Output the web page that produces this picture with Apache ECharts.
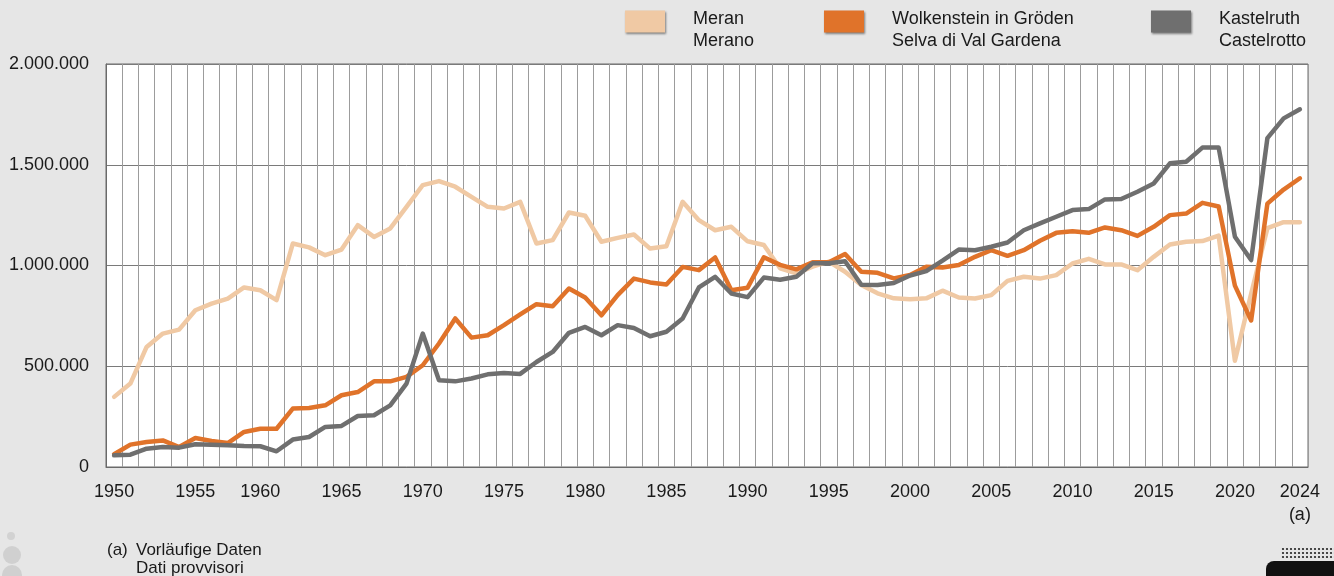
<!DOCTYPE html>
<html>
<head>
<meta charset="utf-8">
<script src="https://cdn.jsdelivr.net/npm/echarts@6/dist/echarts.min.js"></script>
<style>
html,body{margin:0;padding:0;background:#e6e6e6;}
#chart{width:1334px;height:576px;}
</style>
</head>
<body>
<div id="chart"></div>
<script>
// Categories (one year between 1955 and 1960 is not shown in the source chart)
const years = ['1950','1951','1952','1953','1954','1955','1956','1957','1958','1960',
  '1961','1962','1963','1964','1965','1966','1967','1968','1969','1970',
  '1971','1972','1973','1974','1975','1976','1977','1978','1979','1980',
  '1981','1982','1983','1984','1985','1986','1987','1988','1989','1990',
  '1991','1992','1993','1994','1995','1996','1997','1998','1999','2000',
  '2001','2002','2003','2004','2005','2006','2007','2008','2009','2010',
  '2011','2012','2013','2014','2015','2016','2017','2018','2019','2020',
  '2021','2022','2023','2024'];

// Values in thousands
const meran = [348,414,596,662,682,778,811,836,891,877,
  828,1109,1090,1051,1079,1200,1142,1184,1291,1399,
  1419,1391,1341,1291,1283,1316,1109,1126,1263,1247,
  1118,1137,1154,1084,1096,1316,1225,1175,1192,1120,
  1102,986,961,994,1019,969,903,862,837,832,
  837,875,841,836,853,924,944,935,952,1010,
  1033,1005,1005,977,1043,1104,1118,1121,1148,527,
  860,1185,1215,1215];

const wolkenstein = [63,111,124,132,99,144,129,119,174,190,
  190,290,293,306,356,372,425,425,447,505,
  613,737,642,654,704,757,808,798,886,841,
  753,853,935,916,906,993,977,1040,877,890,
  1041,1003,981,1016,1016,1057,969,964,936,953,
  994,990,1002,1043,1076,1048,1076,1123,1162,1170,
  1162,1189,1175,1147,1192,1250,1258,1311,1293,900,
  727,1307,1377,1433];

const kastelruth = [58,61,91,99,96,113,111,108,104,103,
  78,136,149,199,204,253,257,306,414,662,
  430,425,439,460,467,462,521,571,666,695,
  654,704,690,649,671,737,891,944,861,843,
  940,929,944,1011,1011,1021,904,903,913,950,
  972,1024,1079,1076,1093,1114,1175,1209,1242,1275,
  1280,1328,1330,1366,1407,1507,1515,1585,1585,1143,
  1027,1632,1730,1775];

const seriesNames = ['Meran\nMerano', 'Wolkenstein in Gröden\nSelva di Val Gardena', 'Kastelruth\nCastelrotto'];
const seriesColors = ['#f0c9a4', '#e0732a', '#6f6f6f'];
const yTicks = [0, 500000, 1000000, 1500000, 2000000];
const footMark = '(a)';
const footText = 'Vorläufige Daten\nDati provvisori';

const FONT = 'Liberation Sans, Arial, sans-serif';
const toAbs = arr => arr.map(v => v * 1000);
const fmt = v => String(v).replace(/\B(?=(\d{3})+(?!\d))/g, '.');

const chart = echarts.init(document.getElementById('chart'), null, {renderer: 'canvas'});

function legendFor(i, left) {
  return {
    left: left, top: -9, padding: 0, orient: 'horizontal',
    itemWidth: 40, itemHeight: 22, icon: 'rect',
    selectedMode: false,
    data: [{name: seriesNames[i], itemStyle: {color: seriesColors[i], shadowColor: 'rgba(0,0,0,0.45)', shadowBlur: 2, shadowOffsetX: 1, shadowOffsetY: 1}}],
    formatter: n => '{s| }\n' + n,
    textStyle: {fontFamily: FONT, fontSize: 18, color: '#1a1a1a', lineHeight: 22, padding: [0, 0, 0, 23],
      rich: {s: {fontSize: 8, lineHeight: 17}}}
  };
}

// decorative dotted logo (bottom right)
const logoDots = [];
for (let r = 0; r < 3; r++) {
  for (let c = 0; c < 14; c++) {
    logoDots.push({type: 'circle', silent: true, shape: {cx: 1283 + c * 4, cy: 549 + r * 4, r: 1.1}, style: {fill: '#222'}});
  }
}

const data = [meran, wolkenstein, kastelruth];

chart.setOption({
  backgroundColor: '#e6e6e6',
  animation: false,
  legend: [legendFor(0, 625), legendFor(1, 824), legendFor(2, 1151)],
  grid: {left: 106, right: 26, top: 64, bottom: 109, show: true, backgroundColor: '#ffffff', borderColor: '#6a6a6a', borderWidth: 1},
  xAxis: {
    type: 'category', data: years, boundaryGap: true,
    axisLine: {show: true, lineStyle: {color: '#6a6a6a', width: 1}},
    axisTick: {show: false},
    splitLine: {show: true, interval: 0, lineStyle: {color: '#9c9c9c', width: 1}},
    axisLabel: {
      interval: (idx, val) => Number(val) % 5 === 0 || val === '2024',
      formatter: v => v === '2024' ? '2024\n(a)' : v,
      fontFamily: FONT, fontSize: 18, color: '#1a1a1a', lineHeight: 23, margin: 14
    }
  },
  yAxis: {
    type: 'value', min: yTicks[0], max: yTicks[yTicks.length - 1], interval: 500000,
    axisLine: {show: true, lineStyle: {color: '#6a6a6a', width: 1}},
    axisTick: {show: false},
    splitLine: {show: true, lineStyle: {color: '#7a7a7a', width: 1}},
    axisLabel: {formatter: v => fmt(v), fontFamily: FONT, fontSize: 18, color: '#1a1a1a', margin: 17}
  },
  series: data.map((d, i) => ({
    name: seriesNames[i], type: 'line', data: toAbs(d), showSymbol: false, symbol: 'none',
    lineStyle: {color: seriesColors[i], width: 4.5, join: 'round', cap: 'round'},
    itemStyle: {color: seriesColors[i]}, z: 2 + i
  })),
  graphic: [
    {type: 'text', left: 107, top: 541, style: {text: footMark, font: '17px ' + FONT, fill: '#1a1a1a', lineHeight: 18}},
    {type: 'text', left: 136, top: 541, style: {text: footText, font: '17px ' + FONT, fill: '#1a1a1a', lineHeight: 18}},
    {type: 'circle', shape: {cx: 11, cy: 536, r: 4}, style: {fill: '#d2d2d2'}},
    {type: 'circle', shape: {cx: 12, cy: 555, r: 9}, style: {fill: '#d0d0d0'}},
    {type: 'circle', shape: {cx: 12, cy: 575, r: 10}, style: {fill: '#d0d0d0'}},
    {type: 'rect', shape: {x: 1266, y: 561, width: 70, height: 20, r: [8, 0, 0, 0]}, style: {fill: '#111'}}
  ].concat(logoDots)
});
</script>
</body>
</html>
